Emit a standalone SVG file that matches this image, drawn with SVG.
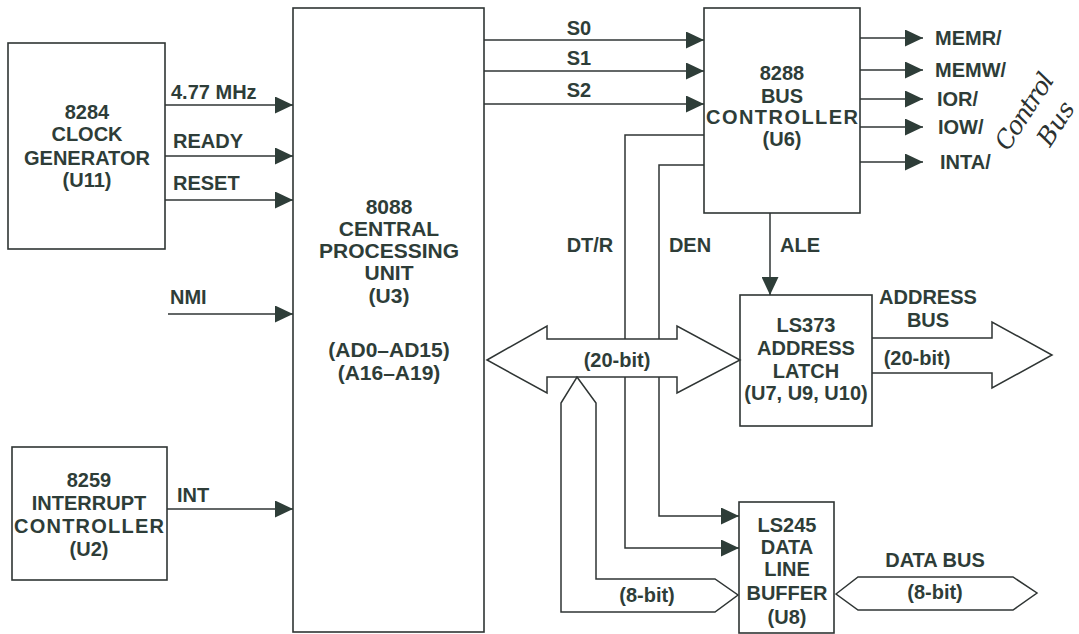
<svg xmlns="http://www.w3.org/2000/svg" width="1079" height="634" viewBox="0 0 1079 634">
<style>
.box{fill:none;stroke:#2f3534;stroke-width:1.6}
.ln{fill:none;stroke:#2f3534;stroke-width:1.5}
.bus{fill:#fff;stroke:#2f3534;stroke-width:1.5;stroke-linejoin:miter}
.t{font-family:"Liberation Sans",Arial,Helvetica,sans-serif;font-weight:bold;font-size:20px;fill:#2e3d38}
.c{text-anchor:middle}
.cpu{font-size:21px}
.hand{font-family:"DejaVu Serif","Liberation Serif",serif;font-style:italic;font-size:25px;fill:#2b3130}
</style>
<defs>
<marker id="ah" markerUnits="userSpaceOnUse" markerWidth="18" markerHeight="17" refX="18" refY="8.5" orient="auto">
<path d="M0,0 L18,8.5 L0,17 z" fill="#2e3d38"/>
</marker>
</defs>
<rect width="1079" height="634" fill="#ffffff"/>

<g id="connectors">
<path class="ln" d="M165,105 H293" marker-end="url(#ah)"/>
<path class="ln" d="M165,156 H293" marker-end="url(#ah)"/>
<path class="ln" d="M165,200 H293" marker-end="url(#ah)"/>
<path class="ln" d="M168,314 H293" marker-end="url(#ah)"/>
<path class="ln" d="M167,509 H293" marker-end="url(#ah)"/>
<path class="ln" d="M484,40 H704" marker-end="url(#ah)"/>
<path class="ln" d="M484,71 H704" marker-end="url(#ah)"/>
<path class="ln" d="M484,104 H704" marker-end="url(#ah)"/>
<path class="ln" d="M860,38 H923" marker-end="url(#ah)"/>
<path class="ln" d="M860,70 H923" marker-end="url(#ah)"/>
<path class="ln" d="M860,99 H923" marker-end="url(#ah)"/>
<path class="ln" d="M860,127 H923" marker-end="url(#ah)"/>
<path class="ln" d="M860,162 H923" marker-end="url(#ah)"/>
<path class="ln" d="M770,213 V295" marker-end="url(#ah)"/>
<path class="ln" d="M704,135 H625 V548 H739" marker-end="url(#ah)"/>
<path class="ln" d="M704,165 H659 V516 H739" marker-end="url(#ah)"/>
<polygon class="bus" points="487,360 547,326 547,339 677,339 677,326 740,360 677,393 677,377 547,377 547,393"/>
<path class="bus" d="M577,377 L596,403 V579 H715 L738,595 L715,612 H561 V403 Z"/>
<path class="bus" d="M872,338 H992 V322 L1052,355 L992,388 V373 H872"/>
<polygon class="bus" points="836,594 858,577 1013,577 1037,593 1013,610 858,610"/>
</g>

<g id="clock">
<rect class="box" x="8" y="43" width="157" height="206"/>
<text class="t c" x="87" y="119">8284</text>
<text class="t c" x="87" y="141">CLOCK</text>
<text class="t c" x="87" y="165">GENERATOR</text>
<text class="t c" x="87" y="187">(U11)</text>
</g>

<g id="pic">
<rect class="box" x="12" y="447" width="155" height="133"/>
<text class="t c" x="89" y="487">8259</text>
<text class="t c" x="89" y="510">INTERRUPT</text>
<text class="t c" x="89" y="533" textLength="150" lengthAdjust="spacing">CONTROLLER</text>
<text class="t c" x="89" y="556">(U2)</text>
</g>

<g id="cpu">
<rect class="box" x="293" y="8" width="191" height="624"/>
<text class="t c cpu" x="389" y="214">8088</text>
<text class="t c cpu" x="389" y="236">CENTRAL</text>
<text class="t c cpu" x="389" y="258">PROCESSING</text>
<text class="t c cpu" x="389" y="280">UNIT</text>
<text class="t c cpu" x="389" y="303">(U3)</text>
<text class="t c cpu" x="389" y="357">(AD0–AD15)</text>
<text class="t c cpu" x="389" y="380">(A16–A19)</text>
</g>

<g id="busctrl">
<rect class="box" x="704" y="8" width="156" height="205"/>
<text class="t c" x="782" y="80">8288</text>
<text class="t c" x="782" y="103">BUS</text>
<text class="t c" x="782" y="124" textLength="152" lengthAdjust="spacing">CONTROLLER</text>
<text class="t c" x="782" y="146">(U6)</text>
</g>

<g id="latch">
<rect class="box" x="740" y="295" width="132" height="131"/>
<text class="t c" x="806" y="332">LS373</text>
<text class="t c" x="806" y="355">ADDRESS</text>
<text class="t c" x="806" y="378">LATCH</text>
<text class="t c" x="806" y="400">(U7, U9, U10)</text>
</g>

<g id="buffer">
<rect class="box" x="739" y="502" width="95" height="131"/>
<text class="t c" x="787" y="532">LS245</text>
<text class="t c" x="787" y="554">DATA</text>
<text class="t c" x="787" y="576">LINE</text>
<text class="t c" x="787" y="600">BUFFER</text>
<text class="t c" x="787" y="624">(U8)</text>
</g>

<g id="labels">
<text class="t" x="171" y="99">4.77 MHz</text>
<text class="t" x="173" y="148">READY</text>
<text class="t" x="173" y="190">RESET</text>
<text class="t" x="170" y="304">NMI</text>
<text class="t" x="177" y="502">INT</text>
<text class="t c" x="579" y="35">S0</text>
<text class="t c" x="579" y="65">S1</text>
<text class="t c" x="579" y="97">S2</text>
<text class="t" x="935" y="45">MEMR/</text>
<text class="t" x="935" y="77">MEMW/</text>
<text class="t" x="937" y="106">IOR/</text>
<text class="t" x="938" y="134">IOW/</text>
<text class="t" x="940" y="169">INTA/</text>
<text class="t c" x="590" y="252">DT/R</text>
<text class="t c" x="690" y="252">DEN</text>
<text class="t c" x="800" y="252">ALE</text>
<text class="t c" x="617" y="367">(20-bit)</text>
<text class="t c" x="928" y="304">ADDRESS</text>
<text class="t c" x="928" y="327">BUS</text>
<text class="t c" x="917" y="365">(20-bit)</text>
<text class="t c" x="647" y="602">(8-bit)</text>
<text class="t c" x="935" y="567">DATA BUS</text>
<text class="t c" x="935" y="599">(8-bit)</text>
</g>

<g id="annotation">
<text class="hand" transform="translate(1008,152) rotate(-57)" textLength="86" lengthAdjust="spacing">Control</text>
<text class="hand" transform="translate(1050,148) rotate(-57)" font-size="21">Bus</text>
</g>
</svg>
